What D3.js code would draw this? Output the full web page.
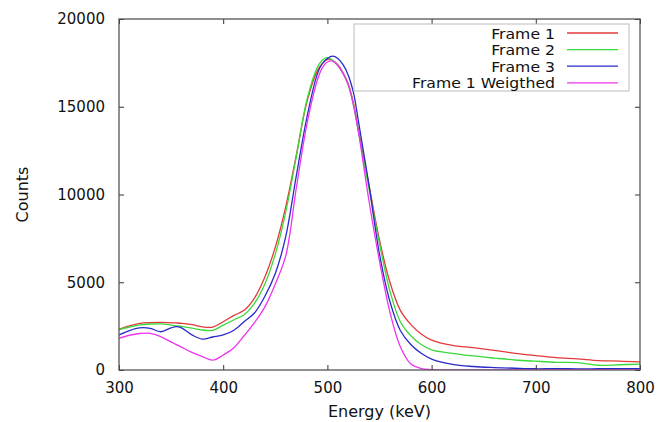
<!DOCTYPE html>
<html>
<head>
<meta charset="utf-8">
<script src="https://cdn.jsdelivr.net/npm/d3@7"></script>
<style>
  body { margin: 0; background: white; }
  .chart text { font-family: "DejaVu Sans", "Liberation Sans", Arial, sans-serif; fill: #111; }
</style>
</head>
<body>
<div class="chart"></div>
<script>
// Energy grid (keV)
const energy = [300, 310, 320, 330, 340, 350, 355, 360, 370, 380, 390, 400, 410, 420, 430, 440, 450, 460, 470, 480, 490, 495, 500, 505, 510, 515, 520, 525, 530, 540, 550, 560, 570, 580, 590, 600, 620, 640, 660, 680, 700, 720, 740, 760, 780, 800];

// Counts per frame
const frame1 = [2320, 2520, 2660, 2700, 2710, 2690, 2680, 2660, 2580, 2460, 2440, 2750, 3100, 3400, 4100, 5300, 7000, 9300, 12200, 15200, 17000, 17450, 17700, 17650, 17400, 16950, 16300, 15200, 13600, 10500, 7400, 5000, 3400, 2600, 2050, 1700, 1400, 1270, 1120, 950, 820, 700, 630, 530, 510, 460];
const frame2 = [2300, 2450, 2570, 2620, 2630, 2560, 2520, 2480, 2380, 2280, 2260, 2560, 2850, 3150, 3800, 4900, 6600, 9000, 12100, 15300, 17200, 17650, 17800, 17650, 17350, 16900, 16250, 15100, 13500, 10300, 7200, 4500, 2750, 1950, 1450, 1150, 950, 800, 680, 570, 500, 440, 420, 270, 300, 330];
const frame3 = [2000, 2250, 2400, 2370, 2180, 2400, 2470, 2400, 2000, 1760, 1880, 2000, 2250, 2750, 3250, 4200, 5500, 7600, 11000, 14300, 16800, 17450, 17750, 17880, 17750, 17400, 16800, 15800, 14100, 10500, 6600, 3900, 2250, 1450, 950, 620, 320, 200, 140, 100, 70, 80, 60, 70, 80, 80];
const frame1Weighted = [1800, 1980, 2080, 2090, 1900, 1600, 1450, 1300, 1000, 760, 560, 850, 1250, 1950, 2700, 3600, 4900, 6500, 10300, 13900, 16450, 17200, 17550, 17600, 17350, 16900, 16250, 15100, 13500, 9600, 6200, 3300, 1330, 350, 80, 20, 0, 0, 0, 0, 0, 0, 0, 0, 0, 0];

const seriesNames = ["Frame 1", "Frame 2", "Frame 3", "Frame 1 Weigthed"];
const seriesValues = [frame1, frame2, frame3, frame1Weighted];
const seriesColors = ["#e23a3a", "#3ad83a", "#2a2ac8", "#ee34ee"];

const xTicks = [300, 400, 500, 600, 700, 800];
const yTicks = [0, 5000, 10000, 15000, 20000];

const width = 658, height = 422;
const plotLeft = 119, plotRight = 640, plotTop = 19, plotBottom = 370;

const svg = d3.select(".chart")
  .append("svg")
  .attr("width", width)
  .attr("height", height);

const xScale = d3.scaleLinear().domain([300, 800]).range([plotLeft, plotRight]);
const yScale = d3.scaleLinear().domain([0, 20000]).range([plotBottom, plotTop]);

// Curves
const line = d3.line()
  .x((d) => xScale(d.e))
  .y((d) => yScale(d.c))
  .curve(d3.curveCatmullRom.alpha(0.5));

svg.append("defs").append("clipPath").attr("id", "clip")
  .append("rect")
  .attr("x", plotLeft).attr("y", plotTop)
  .attr("width", plotRight - plotLeft).attr("height", plotBottom - plotTop);

seriesValues.forEach((vals, i) => {
  const pts = energy.map((e, j) => ({ e: e, c: vals[j] }));
  svg.append("path")
    .datum(pts)
    .attr("clip-path", "url(#clip)")
    .attr("d", line)
    .attr("fill", "none")
    .attr("stroke", seriesColors[i])
    .attr("stroke-width", 1.3);
});

// Axes with inward ticks on all four sides
const tickLen = 5;
const fmt = d3.format("d");
svg.append("g")
  .attr("transform", `translate(0,${plotBottom})`)
  .call(d3.axisBottom(xScale).tickValues(xTicks).tickFormat(fmt).tickSizeInner(-tickLen).tickSizeOuter(0).tickPadding(12))
  .call((g) => g.select(".domain").remove())
  .call((g) => g.selectAll("text").attr("font-size", 15).attr("fill", "#111"));

svg.append("g")
  .attr("transform", `translate(0,${plotTop})`)
  .call(d3.axisTop(xScale).tickValues(xTicks).tickSizeInner(-tickLen).tickSizeOuter(0).tickFormat(""))
  .call((g) => g.select(".domain").remove());

svg.append("g")
  .attr("transform", `translate(${plotLeft},0)`)
  .call(d3.axisLeft(yScale).tickValues(yTicks).tickFormat(fmt).tickSizeInner(-tickLen).tickSizeOuter(0).tickPadding(14))
  .call((g) => g.select(".domain").remove())
  .call((g) => g.selectAll("text").attr("font-size", 15).attr("fill", "#111"));

svg.append("g")
  .attr("transform", `translate(${plotRight},0)`)
  .call(d3.axisRight(yScale).tickValues(yTicks).tickSizeInner(-tickLen).tickSizeOuter(0).tickFormat(""))
  .call((g) => g.select(".domain").remove());

svg.selectAll(".tick line").attr("stroke", "#333");

// Frame
svg.append("rect")
  .attr("x", plotLeft).attr("y", plotTop)
  .attr("width", plotRight - plotLeft).attr("height", plotBottom - plotTop)
  .attr("fill", "none")
  .attr("stroke", "#555")
  .attr("stroke-width", 1.3);

// Axis titles
svg.append("text")
  .attr("x", (plotLeft + plotRight) / 2)
  .attr("y", 417)
  .attr("text-anchor", "middle")
  .attr("font-size", 16)
  .text("Energy (keV)");

svg.append("text")
  .attr("transform", `translate(28,${(plotTop + plotBottom) / 2}) rotate(-90)`)
  .attr("text-anchor", "middle")
  .attr("font-size", 16)
  .text("Counts");

// Legend
const legend = svg.append("g");
legend.append("rect")
  .attr("x", 354).attr("y", 24)
  .attr("width", 275).attr("height", 67)
  .attr("fill", "white")
  .attr("stroke", "#bbb");

seriesNames.forEach((name, i) => {
  const y = 38.5 + i * 16.6;
  legend.append("g")
    .attr("transform", `translate(555,${y}) scale(1.12,1)`)
    .append("text")
    .attr("text-anchor", "end")
    .attr("font-size", 14)
    .text(name);
  legend.append("line")
    .attr("x1", 567).attr("x2", 618)
    .attr("y1", y - 5.5).attr("y2", y - 5.5)
    .attr("stroke", seriesColors[i])
    .attr("stroke-width", 1.3);
});
</script>
</body>
</html>
